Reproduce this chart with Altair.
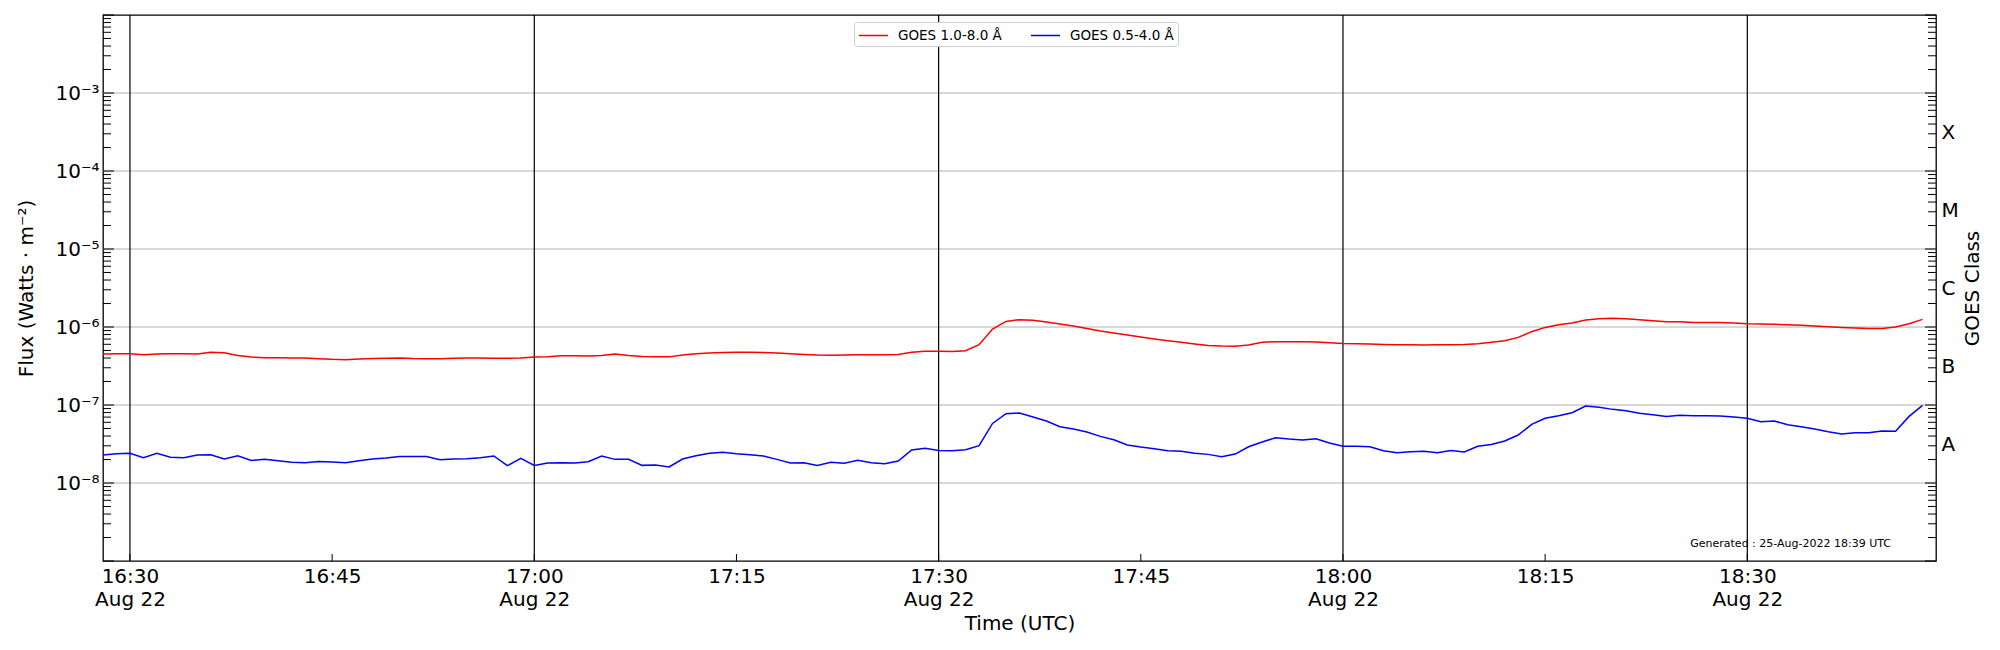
import altair as alt
import pandas as pd

# ---------------- data ----------------
START = "2022-08-22 16:28"          # first sample (1-minute cadence)
N_SAMPLES = 136                      # 16:28 ... 18:43

# log10 of flux (W m^-2), one value per minute
LOG_LONG = [  # GOES 1.0-8.0 A
    -6.347, -6.342, -6.342, -6.355, -6.347, -6.342, -6.344, -6.347, -6.325, -6.330,
    -6.364, -6.385, -6.394, -6.394, -6.396, -6.398, -6.406, -6.415, -6.419, -6.411,
    -6.404, -6.402, -6.398, -6.404, -6.406, -6.406, -6.402, -6.398, -6.398, -6.400,
    -6.402, -6.398, -6.385, -6.381, -6.368, -6.368, -6.372, -6.364, -6.347, -6.364,
    -6.377, -6.383, -6.383, -6.359, -6.342, -6.334, -6.327, -6.323, -6.325, -6.327,
    -6.334, -6.342, -6.351, -6.359, -6.362, -6.359, -6.357, -6.357, -6.357, -6.351,
    -6.325, -6.312, -6.312, -6.315, -6.304, -6.227, -6.026, -5.928, -5.906, -5.915,
    -5.936, -5.962, -5.988, -6.018, -6.052, -6.077, -6.103, -6.129, -6.154, -6.176,
    -6.197, -6.218, -6.236, -6.244, -6.246, -6.231, -6.197, -6.188, -6.188, -6.188,
    -6.193, -6.201, -6.210, -6.214, -6.218, -6.223, -6.227, -6.229, -6.231, -6.229,
    -6.229, -6.225, -6.214, -6.197, -6.176, -6.133, -6.060, -6.005, -5.970, -5.949,
    -5.911, -5.894, -5.889, -5.894, -5.906, -5.919, -5.932, -5.934, -5.941, -5.941,
    -5.943, -5.949, -5.958, -5.962, -5.966, -5.970, -5.979, -5.988, -5.996, -6.005,
    -6.013, -6.018, -6.018, -6.000, -5.958, -5.902,
]
LOG_SHORT = [  # GOES 0.5-4.0 A
    -7.641, -7.624, -7.620, -7.676, -7.620, -7.671, -7.676, -7.641, -7.637, -7.693,
    -7.650, -7.710, -7.697, -7.714, -7.735, -7.740, -7.723, -7.731, -7.740, -7.714,
    -7.693, -7.680, -7.659, -7.659, -7.659, -7.701, -7.693, -7.688, -7.676, -7.654,
    -7.778, -7.684, -7.774, -7.744, -7.740, -7.744, -7.727, -7.654, -7.697, -7.697,
    -7.774, -7.770, -7.795, -7.693, -7.650, -7.620, -7.607, -7.624, -7.637, -7.654,
    -7.697, -7.744, -7.740, -7.774, -7.735, -7.748, -7.710, -7.740, -7.753, -7.718,
    -7.577, -7.556, -7.582, -7.586, -7.573, -7.522, -7.236, -7.112, -7.103, -7.154,
    -7.206, -7.278, -7.308, -7.347, -7.402, -7.445, -7.513, -7.539, -7.560, -7.586,
    -7.594, -7.620, -7.633, -7.663, -7.629, -7.535, -7.475, -7.419, -7.436, -7.449,
    -7.432, -7.488, -7.530, -7.530, -7.535, -7.586, -7.612, -7.599, -7.594, -7.612,
    -7.582, -7.603, -7.530, -7.505, -7.462, -7.385, -7.248, -7.171, -7.137, -7.099,
    -7.013, -7.030, -7.056, -7.073, -7.107, -7.124, -7.146, -7.133, -7.137, -7.137,
    -7.141, -7.154, -7.171, -7.214, -7.206, -7.253, -7.278, -7.308, -7.342, -7.372,
    -7.355, -7.355, -7.334, -7.338, -7.146, -7.005,
]

SERIES = ["GOES 1.0-8.0 Å", "GOES 0.5-4.0 Å"]
COLORS = ["#ff0000", "#0000ff"]

DECADE_GRID = [1e-8, 1e-7, 1e-6, 1e-5, 1e-4, 1e-3]
MAJOR_TICKS = [1e-9, 1e-8, 1e-7, 1e-6, 1e-5, 1e-4, 1e-3, 1e-2]
MINOR_MULT = [2, 3, 4, 5, 6, 7, 8, 9]
CLASS_CENTERS = [10 ** -7.5, 10 ** -6.5, 10 ** -5.5, 10 ** -4.5, 10 ** -3.5]
CLASS_LABELS = ["A", "B", "C", "M", "X"]

HALF_HOURS = ["16:30", "17:00", "17:30", "18:00", "18:30"]
QUARTERS = ["16:30", "16:45", "17:00", "17:15", "17:30", "17:45",
            "18:00", "18:15", "18:30"]
X_DOMAIN = ["16:28", "18:44"]
GENERATED = "Generated : 25-Aug-2022 18:39 UTC"

# ---------------- layout ----------------
W, H = 1833, 546
FONT = "DejaVu Sans"


def iso(hhmm):
    return f"2022-08-22T{hhmm}:00Z"


def ms(hhmm):
    return int(pd.Timestamp(iso(hhmm)).value // 10 ** 6)


times = pd.date_range(START, periods=N_SAMPLES, freq="1min").strftime(
    "%Y-%m-%dT%H:%M:00Z")
df = pd.concat([
    pd.DataFrame({"time": times, "flux": [10 ** v for v in LOG_LONG],
                  "series": SERIES[0]}),
    pd.DataFrame({"time": times, "flux": [10 ** v for v in LOG_SHORT],
                  "series": SERIES[1]}),
])

minor_ticks = [m * d for d in MAJOR_TICKS[:-1] for m in MINOR_MULT]

xscale = alt.Scale(type="utc", domain=[ms(X_DOMAIN[0]), ms(X_DOMAIN[1])], nice=False)


def yscale():
    return alt.Scale(type="log", domain=[1e-9, 1e-2], nice=False, zero=False)


def x_axis():
    return alt.Axis(
        values=[ms(q) for q in QUARTERS],
        labelExpr=("utcminutes(datum.value) % 30 == 0 ? "
                   "[utcFormat(datum.value, '%H:%M'), utcFormat(datum.value, '%b %d')] : "
                   "utcFormat(datum.value, '%H:%M')"),
        title="Time (UTC)", ticks=False, domain=False, grid=False,
        labelFontSize=20, labelPadding=5, labelLineHeight=23, labelFlush=False,
        labelOverlap=False, labelBound=False, titleFontSize=20, titlePadding=4,
    )


y_axis_left = alt.Axis(
    orient="left", values=DECADE_GRID,
    labelExpr="'10⁻' + ['','','','³','⁴','⁵','⁶','⁷','⁸','⁹'][round(-log(datum.value)/LN10)]",
    ticks=False, domain=False, grid=False, labelFontSize=20, labelPadding=4,
    title="Flux (Watts · m⁻²)", titleFontSize=20, titlePadding=18,
)

y_axis_right = alt.Axis(
    orient="right", values=CLASS_CENTERS,
    labelExpr="['','','','X','M','C','B','A'][floor(-log(datum.value)/LN10)]",
    ticks=False, domain=False, grid=False, labelFontSize=20, labelPadding=5,
    title="GOES Class", titleFontSize=20, titleAngle=270, titleBaseline="top",
    titlePadding=4,
)

# horizontal grid
grid = alt.Chart(pd.DataFrame({"v": DECADE_GRID})).mark_rule(
    color="#b0b0b0", strokeWidth=1).encode(
    y=alt.Y("v:Q", scale=yscale(), axis=None))

# vertical black lines at half hours
vlines = alt.Chart(pd.DataFrame({"t": [iso(h) for h in HALF_HOURS]})).mark_rule(
    color="black", strokeWidth=1.2).encode(
    x=alt.X("t:T", scale=xscale, axis=x_axis()))

# x ticks (inward, bottom)
xticks = alt.Chart(pd.DataFrame({"t": [iso(q) for q in QUARTERS]})).mark_rule(
    color="black", strokeWidth=1).encode(
    x=alt.X("t:T", scale=xscale, axis=x_axis()),
    y=alt.value(H), y2=alt.value(H - 7))

# data lines
lines = alt.Chart(df).mark_line(strokeWidth=1.5).encode(
    x=alt.X("time:T", scale=xscale, axis=x_axis()),
    y=alt.Y("flux:Q", scale=yscale(), axis=y_axis_left),
    color=alt.Color("series:N", scale=alt.Scale(domain=SERIES, range=COLORS),
                    legend=alt.Legend(
                        title=None, orient="none", legendX=751, legendY=7,
                        direction="horizontal",
                        symbolType="M-1.706,0H1.706", symbolSize=289,
                        symbolStrokeWidth=1.5, symbolOffset=6,
                        labelFontSize=13.5, labelFont=FONT, labelColor="black",
                        labelOffset=15, columnPadding=25, padding=4,
                        fillColor="white", strokeColor="#cccccc",
                        cornerRadius=3)),
    order=alt.Order("time:T"),
)


def tick_layer(values, x0, x1, axis=None):
    return alt.Chart(pd.DataFrame({"v": values})).mark_rule(
        color="black", strokeWidth=1).encode(
        y=alt.Y("v:Q", scale=yscale(), axis=axis),
        x=alt.value(x0), x2=alt.value(x1))


left_major = tick_layer(MAJOR_TICKS, 0, 11)
left_minor = tick_layer(minor_ticks, 0, 8)
right_major = tick_layer(MAJOR_TICKS, W, W - 11)
right_minor = tick_layer(minor_ticks, W, W - 8, axis=y_axis_right)

gen_text = alt.Chart(pd.DataFrame({"txt": [GENERATED]})).mark_text(
    align="right", baseline="alphabetic", fontSize=11, font=FONT,
    color="black").encode(x=alt.value(1788), y=alt.value(532), text="txt:N")

chart = alt.layer(
    grid, vlines, lines, xticks, left_major, left_minor, right_major,
    right_minor, gen_text,
).resolve_scale(y="independent").properties(
    width=W, height=H,
    autosize=alt.AutoSizeParams(type="none"),
    padding={"left": 95, "top": 7, "right": 56, "bottom": 76},
    background="white",
).configure_view(
    stroke="black", strokeWidth=1.3,
).configure_axis(
    labelFont=FONT, titleFont=FONT, labelColor="black", titleColor="black",
    titleFontWeight="normal",
).configure_legend(
    labelFont=FONT,
)

chart.save("out.html", embed_options={"renderer": "svg", "actions": False})
